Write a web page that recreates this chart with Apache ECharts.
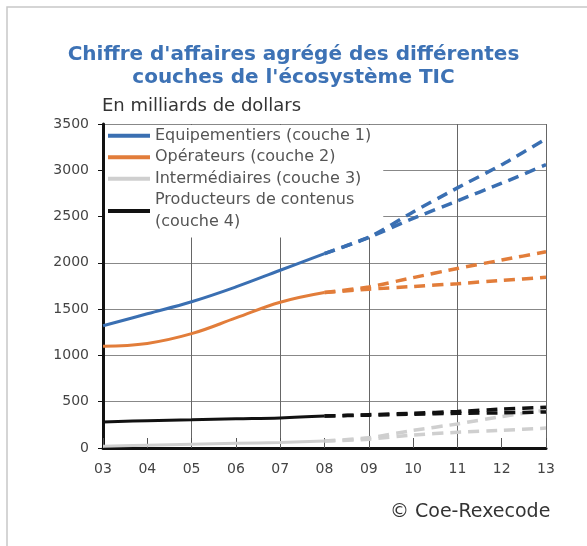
<!DOCTYPE html>
<html>
<head>
<meta charset="utf-8">
<script src="https://cdn.jsdelivr.net/npm/echarts@6/dist/echarts.min.js"></script>
<style>
html,body{margin:0;padding:0;background:#fff;}
#chart{width:587px;height:546px;}
</style>
</head>
<body>
<div id="chart"></div>
<script>
// Categories (years)
const years = ['03','04','05','06','07','08','09','10','11','12','13'];
const yTicks = [0,500,1000,1500,2000,2500,3000,3500];

// Series names
const names = ['Equipementiers (couche 1)','Opérateurs (couche 2)','Intermédiaires (couche 3)','Producteurs de contenus\n(couche 4)'];

// Historical values 03–08
const blueHist   = [1320,1450,1580,1740,1920,2100];
const orangeHist = [1100,1130,1235,1405,1575,1680];
const greyHist   = [20,30,40,50,60,75];
const blackHist  = [280,295,305,315,325,345];

// Projections 08–13 (high / low scenarios)
const blueHigh   = [2100,2275,2550,2810,3060,3340];
const blueLow    = [2100,2275,2480,2670,2860,3060];
const orangeHigh = [1680,1740,1840,1940,2030,2120];
const orangeLow  = [1680,1715,1745,1775,1810,1845];
const greyHigh   = [75,110,190,260,340,410];
const greyLow    = [75,95,140,170,190,215];
const blackHigh  = [345,360,375,395,420,440];
const blackLow   = [345,355,365,375,380,390];

const colors = ['#3a6fb2','#e27d3a','#cfcfcf','#111111'];

const pad5 = ['-','-','-','-','-'];
function hist(a){ return a.concat(['-','-','-','-','-']); }
function proj(a){ return pad5.concat(a); }

const histSets = [blueHist, orangeHist, greyHist, blackHist];
const projSets = [[blueHigh,blueLow],[orangeHigh,orangeLow],[greyHigh,greyLow],[blackHigh,blackLow]];

const series = [];
histSets.forEach((h,i)=>{
  series.push({
    name: names[i], type:'line', data: hist(h), symbol:'none', smooth:0.4,
    lineStyle:{color:colors[i], width:3}, itemStyle:{color:colors[i]}, z: 6 + (i===3?1:0)
  });
});
projSets.forEach((p,i)=>{
  p.forEach((arr,k)=>{
    series.push({
      name: names[i] + ' proj' + k, type:'line', data: proj(arr), symbol:'none', smooth:0.2,
      lineStyle:{color:colors[i], width:3.5, type:[11,7]}, itemStyle:{color:colors[i]}, z: 6
    });
  });
});

const chart = echarts.init(document.getElementById('chart'), null, {renderer:'canvas'});
chart.setOption({
  animation:false,
  backgroundColor:'#fff',
  title:{
    text:"Chiffre d'affaires agrégé des différentes\ncouches de l'écosystème TIC",
    left:'center', top:38,
    textStyle:{color:'#3d72b5', fontFamily:'DejaVu Sans', fontWeight:'bold', fontSize:20, lineHeight:23}
  },
  graphic:[
    {type:'rect', shape:{x:7,y:7,width:620,height:600}, style:{fill:'none', stroke:'#c8c8c8', lineWidth:1.5}, z:-1},
    {type:'text', left:102, top:97, style:{text:'En milliards de dollars', fill:'#333', font:'18px "DejaVu Sans"'}},
    {type:'text', left:390, top:503, style:{text:'© Coe-Rexecode', fill:'#333', font:'19px "DejaVu Sans"'}}
  ],
  legend:{
    data: names,
    orient:'vertical', left:105, top:125,
    backgroundColor:'#fff',
    padding:[0,12,5,3],
    itemWidth:42, itemHeight:4, itemGap:0,
    icon:'rect',
    z:3,
    textStyle:{color:'#555', fontFamily:'DejaVu Sans', fontSize:16, lineHeight:21.5}
  },
  grid:{left:103, right:41, top:124, bottom:98},
  xAxis:{
    type:'category', data: years, boundaryGap:false,
    axisLine:{lineStyle:{color:'#111', width:3}},
    axisTick:{show:true, inside:true, length:10, interval:0, lineStyle:{color:'#555', width:1}},
    splitLine:{show:true, interval:(i)=> i>0 && i%2===0, lineStyle:{color:'#666', width:1}},
    axisLabel:{color:'#444', fontFamily:'DejaVu Sans', fontSize:14, margin:14}
  },
  yAxis:{
    type:'value', min:yTicks[0], max:yTicks[yTicks.length-1], interval:500,
    axisLine:{show:true, lineStyle:{color:'#111', width:3}},
    axisTick:{show:true, length:5, lineStyle:{color:'#111'}},
    splitLine:{show:true, lineStyle:{color:'#888', width:1}},
    axisLabel:{color:'#444', fontFamily:'DejaVu Sans', fontSize:14, margin:14, formatter:(v)=>String(v)}
  },
  series: series
});
</script>
</body>
</html>
